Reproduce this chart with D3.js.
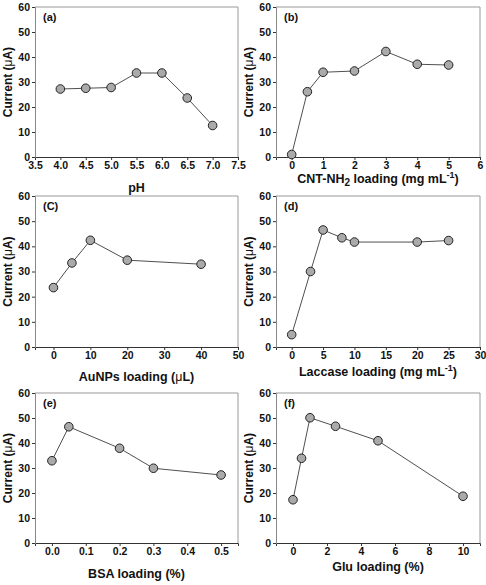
<!DOCTYPE html>
<html>
<head>
<meta charset="utf-8">
<script src="https://cdn.jsdelivr.net/npm/d3@7"></script>
<style>
  body { margin: 0; background: #fff; }
  text { font-family: "Liberation Sans", Arial, sans-serif; font-weight: bold; fill: #111; }
</style>
</head>
<body>
<div id="chart"></div>
<script>
// values
const pHX = [4.0, 4.5, 5.0, 5.5, 6.0, 6.5, 7.0];
const pHY = [27.2, 27.5, 27.8, 33.6, 33.6, 23.6, 12.6];

const cntX = [0, 0.5, 1, 2, 3, 4, 5];
const cntY = [1.0, 26.1, 33.9, 34.4, 42.2, 37.1, 36.8];

const aunpX = [0, 5, 10, 20, 40];
const aunpY = [23.6, 33.4, 42.4, 34.5, 32.9];

const laccX = [0, 3, 5, 8, 10, 20, 25];
const laccY = [4.9, 30.0, 46.5, 43.4, 41.7, 41.7, 42.3];

const bsaX = [0, 0.05, 0.2, 0.3, 0.5];
const bsaY = [32.9, 46.5, 37.9, 29.9, 27.2];

const gluX = [0, 0.5, 1, 2.5, 5, 10];
const gluY = [17.3, 33.9, 50.1, 46.7, 40.9, 18.7];

const yTicks = [0, 10, 20, 30, 40, 50, 60];

const panels = [
  { tag: "(a)", xs: pHX, ys: pHY, dom: [3.5, 7.5], ticks: d3.range(3.5, 7.51, 0.5), fmt: d3.format(".1f"),
    label: [["pH"]], l: 35, r: 238, t: 7, b: 157, lab: 35 },
  { tag: "(b)", xs: cntX, ys: cntY, dom: [-0.5, 6], ticks: [0, 1, 2, 3, 4, 5, 6], fmt: d3.format("d"),
    label: [["CNT-NH"], ["2", "sub"], [" loading (mg mL"], ["-1", "sup"], [")"]], l: 276, r: 480, t: 7, b: 157, lab: 26 },
  { tag: "(C)", xs: aunpX, ys: aunpY, dom: [-5, 50], ticks: [0, 10, 20, 30, 40, 50], fmt: d3.format("d"),
    label: [["AuNPs loading ("], ["μ", "mu"], ["L)"]], l: 35, r: 238, t: 196, b: 347, lab: 34 },
  { tag: "(d)", xs: laccX, ys: laccY, dom: [-2.5, 30], ticks: [0, 5, 10, 15, 20, 25, 30], fmt: d3.format("d"),
    label: [["Laccase loading (mg mL"], ["-1", "sup"], [")"]], l: 276, r: 480, t: 196, b: 347, lab: 29 },
  { tag: "(e)", xs: bsaX, ys: bsaY, dom: [-0.05, 0.55], ticks: [0, 0.1, 0.2, 0.3, 0.4, 0.5], fmt: d3.format(".1f"),
    label: [["BSA loading (%)"]], l: 35, r: 238, t: 393, b: 543, lab: 35 },
  { tag: "(f)", xs: gluX, ys: gluY, dom: [-1, 11], ticks: [0, 2, 4, 6, 8, 10], fmt: d3.format("d"),
    label: [["Glu loading (%)"]], l: 276, r: 480, t: 393, b: 543, lab: 28 }
];

const svg = d3.select("#chart").append("svg")
  .attr("width", 486).attr("height", 585);

panels.forEach((p) => {
  const x = d3.scaleLinear().domain(p.dom).range([p.l, p.r]);
  const y = d3.scaleLinear().domain([0, 60]).range([p.b, p.t]);
  const g = svg.append("g");

  // grey frame (top/right)
  g.append("path")
    .attr("d", `M${p.l},${p.t}H${p.r}V${p.b}`)
    .attr("fill", "none").attr("stroke", "#999").attr("stroke-width", 1);

  // axes
  const xa = g.append("g").attr("transform", `translate(0,${p.b})`)
    .call(d3.axisBottom(x).tickValues(p.ticks).tickFormat(p.fmt).tickSizeOuter(0).tickSize(3).tickPadding(2));
  const ya = g.append("g").attr("transform", `translate(${p.l},0)`)
    .call(d3.axisLeft(y).tickValues(yTicks).tickSizeOuter(0).tickSize(3).tickPadding(2));
  xa.select(".domain").attr("stroke", "#333");
  ya.select(".domain").attr("stroke", "#888");
  [xa, ya].forEach((a) => {
    a.selectAll("line").attr("stroke", "#333");
    a.selectAll("text").style("font-size", "10.5px").style("font-weight", "bold")
      .style("font-family", "'Liberation Sans', Arial, sans-serif").attr("fill", "#111");
  });

  // y label
  const yl = g.append("text")
    .attr("transform", `translate(${p.l - 23},${(p.t + p.b) / 2}) rotate(-90)`)
    .attr("text-anchor", "middle").style("font-size", "12px");
  yl.append("tspan").text("Current (");
  yl.append("tspan").text("μ").style("font-weight", "normal");
  yl.append("tspan").text("A)");

  // x label
  const xl = g.append("text")
    .attr("x", (p.l + p.r) / 2).attr("y", p.b + p.lab)
    .attr("text-anchor", "middle").style("font-size", "12.5px");
  let prev = null;
  p.label.forEach(([s, kind]) => {
    const ts = xl.append("tspan").text(s);
    if (kind === "sub") ts.attr("dy", 3).style("font-size", "10px");
    else if (kind === "sup") ts.attr("dy", -5).style("font-size", "9px");
    else if (prev === "sub") ts.attr("dy", -3);
    else if (prev === "sup") ts.attr("dy", 5);
    if (kind === "mu") ts.style("font-weight", "normal");
    prev = kind;
  });

  // panel tag
  g.append("text").attr("x", p.l + 8).attr("y", p.t + 14)
    .style("font-size", "11px").text(p.tag);

  // line and markers
  const pts = p.xs.map((v, i) => [v, p.ys[i]]);
  g.append("path").datum(pts)
    .attr("fill", "none").attr("stroke", "#222").attr("stroke-width", 0.8)
    .attr("d", d3.line().x((d) => x(d[0])).y((d) => y(d[1])));
  g.selectAll("circle").data(pts).join("circle")
    .attr("cx", (d) => x(d[0])).attr("cy", (d) => y(d[1]))
    .attr("r", 4.3).attr("fill", "#aaaaaa").attr("stroke", "#222").attr("stroke-width", 1);
});
</script>
</body>
</html>
